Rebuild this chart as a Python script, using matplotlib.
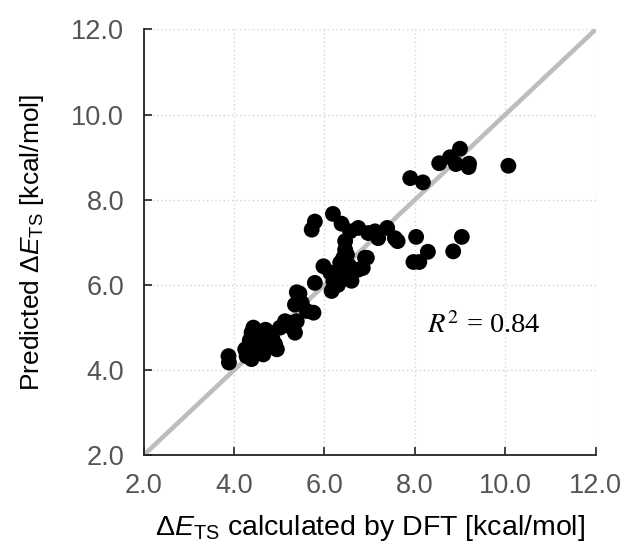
import matplotlib
matplotlib.use("Agg")
import matplotlib.pyplot as plt
import numpy as np

plt.rcParams['font.family'] = ['Liberation Sans', 'DejaVu Sans']
plt.rcParams['mathtext.fontset'] = 'custom'
plt.rcParams['mathtext.rm'] = 'Liberation Sans'
plt.rcParams['mathtext.it'] = 'Liberation Sans:italic'

# DFT values (x) and predicted values (y)
dft = [
    3.88, 3.89, 4.43, 4.39, 4.25, 4.28, 4.39, 4.47, 4.62, 4.65,
    4.80, 4.91, 4.95, 5.02, 5.17, 5.28, 5.35, 4.76, 4.55, 4.70,
    4.35, 4.52, 4.85, 5.13, 5.24, 5.39, 5.35, 5.50, 5.61, 5.76,
    5.39, 5.45, 5.79, 5.98, 6.13, 6.35, 6.50, 6.20, 6.42, 6.57,
    6.75, 6.16, 6.30, 6.45, 6.60, 6.85, 6.90, 5.79, 5.72, 6.19,
    6.38, 6.57, 6.75, 6.97, 7.12, 7.19, 7.39, 7.56, 7.62, 6.46,
    6.46, 6.42, 6.94, 8.03, 8.29, 7.97, 8.10, 8.85, 9.04, 7.90,
    8.18, 8.54, 8.78, 8.91, 9.00, 9.19, 9.20, 10.07, 6.30, 6.55,
]
pred = [
    4.33, 4.18, 5.00, 4.88, 4.49, 4.33, 4.26, 4.57, 4.72, 4.37,
    4.88, 4.61, 4.49, 5.00, 5.08, 5.11, 4.88, 4.57, 4.80, 4.95,
    4.70, 4.45, 4.75, 5.15, 5.03, 5.15, 5.54, 5.58, 5.39, 5.35,
    5.83, 5.80, 6.05, 6.44, 6.29, 6.52, 6.71, 6.09, 6.21, 6.17,
    6.36, 5.86, 6.00, 6.35, 6.10, 6.40, 6.64, 7.49, 7.30, 7.67,
    7.44, 7.26, 7.34, 7.22, 7.26, 7.10, 7.34, 7.10, 7.03, 7.03,
    6.83, 6.64, 6.64, 7.13, 6.78, 6.54, 6.54, 6.79, 7.13, 8.51,
    8.41, 8.86, 9.00, 8.84, 9.20, 8.77, 8.85, 8.80, 6.25, 6.45,
]
ticks = [2.0, 4.0, 6.0, 8.0, 10.0, 12.0]
r2 = 0.84

fig = plt.figure(figsize=(6.25, 5.46), dpi=100)
ax = fig.add_axes([0.2296, 0.166, 0.7234, 0.780])

ax.plot([2, 12], [2, 12], color='#bdbdbd', lw=3.3, zorder=1)
ax.scatter(dft, pred, s=130, color='black', edgecolors='none', zorder=3)

ax.set_xlim(2, 12)
ax.set_ylim(2, 12)
ax.set_xticks(ticks)
ax.set_yticks(ticks)
ax.set_xticklabels([f'{t:.1f}' for t in ticks])
ax.set_yticklabels([f'{t:.1f}' for t in ticks])
ax.grid(True, color='#d5d5d5', linestyle=(0, (1, 2)), lw=1)
ax.set_axisbelow(True)

for s in ['top', 'right']:
    ax.spines[s].set_visible(False)
for s in ['left', 'bottom']:
    ax.spines[s].set_linewidth(1.3)
    ax.spines[s].set_color('#222222')
ax.tick_params(direction='in', length=6, width=1.2, labelsize=19.5,
               colors='#222222')
ax.tick_params(axis='x', pad=13)
ax.tick_params(axis='y', pad=14)
ax.tick_params(labelcolor='#555555')

ax.set_xlabel(r'$\Delta E_{\mathrm{TS}}$ calculated by DFT [kcal/mol]',
              fontsize=20.5, labelpad=10)
ax.set_ylabel(r'Predicted $\Delta E_{\mathrm{TS}}$ [kcal/mol]',
              fontsize=19, labelpad=18)

ax.text(8.28, 5.05, r'$R^2$' + f' = {r2}', fontsize=20.5,
        family='Liberation Serif', va='center', ha='left',
        math_fontfamily='stix')

fig.savefig('out.png', dpi=100)
